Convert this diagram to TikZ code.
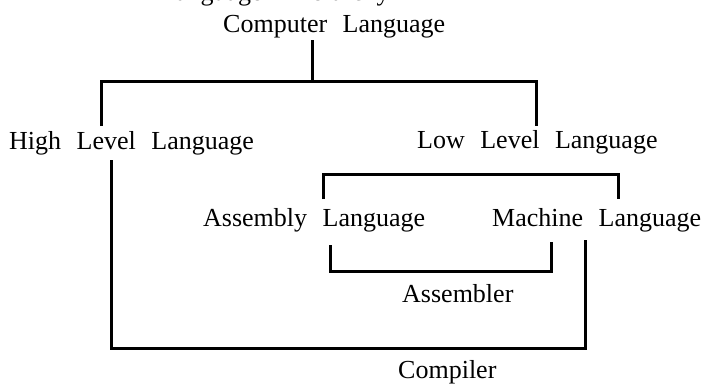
\documentclass[tikz,border=0pt]{standalone}
\usepackage{fontspec}
\setmainfont{Liberation Serif}
\newcommand\wgap{\hspace{15.5pt}}
\begin{document}
\begin{tikzpicture}[x=1pt,y=-1pt,
  lbl/.style={anchor=base west,inner sep=0pt,font=\fontsize{26}{30}\selectfont},
  conn/.style={line width=3pt,line join=miter,line cap=butt}]
\useasboundingbox (0,0) rectangle (701,383);
\begin{scope}
\clip (0,0) rectangle (701,383);
\node[lbl] (ttl) at (160,0.5) {Language\hspace{23pt}Hierarchy};
\end{scope}
\node[lbl] (comp) at (223,32) {Computer\wgap Language};
\node[lbl] (hl) at (9,149) {High\wgap Level\wgap Language};
\node[lbl] (ll) at (417,148.5) {Low\wgap Level\wgap Language};
\node[lbl] (asm) at (203,226) {Assembly\wgap Language};
\node[lbl] (mach) at (492,226) {Machine\wgap Language};
\node[lbl] (asmr) at (402,302) {Assembler};
\node[lbl] (compr) at (398,378) {Compiler};
% connector points
\coordinate (c0) at (312.7,40);
\coordinate (c1) at (312.7,81);
\coordinate (hlT) at (101,126);
\coordinate (llT) at (536,126);
\coordinate (asmT) at (323,199);
\coordinate (machT) at (618,199);
\coordinate (asmB) at (330,245);
\coordinate (machB) at (551,242);
\coordinate (hlB) at (111,160);
\coordinate (machB2) at (585,240);
\draw[conn] (c0) -- (c1);
\draw[conn] (hlT) |- (c1) -| (llT);
\draw[conn] (asmT) |- (618,174) -- (machT);
\draw[conn] (asmB) |- (551,271) -- (machB);
\draw[conn] (hlB) |- (585,348) -- (machB2);
\end{tikzpicture}
\end{document}
